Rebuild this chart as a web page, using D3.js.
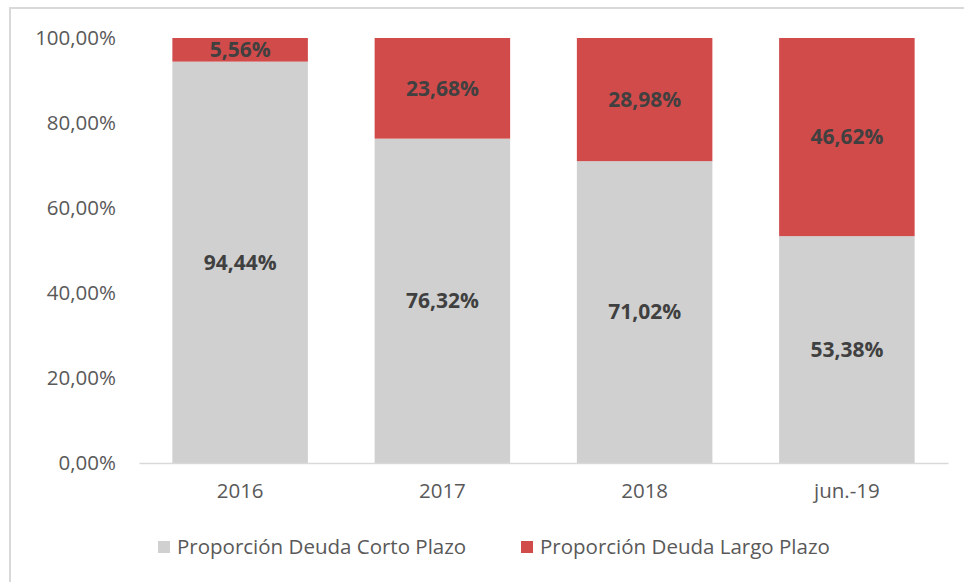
<!DOCTYPE html>
<html>
<head>
<meta charset="utf-8">
<script src="https://cdn.jsdelivr.net/npm/d3@7"></script>
<style>
  body { margin: 0; background: #fff; }
  text { font-family: "Open Sans", "Noto Sans", sans-serif; }
</style>
</head>
<body>
<script>
// data
var categories = ['2016', '2017', '2018', 'jun.-19']
var corto = [94.44, 76.32, 71.02, 53.38]
var largo = [5.56, 23.68, 28.98, 46.62]
var seriesNames = ['Proporción Deuda Corto Plazo', 'Proporción Deuda Largo Plazo']
var yTicks = [0, 20, 40, 60, 80, 100]

var colors = ['#d0d0d0', '#d14b4b']

var W = 964, H = 582
var margin = {top: 38, right: 16, bottom: 119, left: 139}
var width = 948 - margin.left
var height = 463 - margin.top

var svg = d3.select('body').append('svg')
  .attr('width', W).attr('height', H)

// outer frame (runs past the right and bottom edges)
svg.append('rect')
  .attr('x', 10).attr('y', 8)
  .attr('width', W + 20).attr('height', H + 20)
  .attr('fill', 'none').attr('stroke', '#d9d9d9').attr('stroke-width', 2)

var g = svg.append('g').attr('transform', 'translate(' + margin.left + ',' + margin.top + ')')

var x = d3.scaleBand().domain(categories).range([0, width]).paddingInner(0.33).paddingOuter(0.165)
var y = d3.scaleLinear().domain([0, 100]).range([height, 0])

var fmt = function(v) { return v.toFixed(2).replace('.', ',') + '%' }

// y axis labels
g.selectAll('.ytick').data(yTicks).enter().append('text')
  .attr('x', -23).attr('y', function(d) { return y(d) })
  .attr('dy', '0.35em').attr('text-anchor', 'end')
  .attr('fill', '#595959').style('font-size', '20.5px')
  .text(function(d) { return fmt(d) })

// stacked bars
var rows = categories.map(function(c, i) { return {cat: c, corto: corto[i], largo: largo[i]} })
var stack = d3.stack().keys(['corto', 'largo'])(rows)

stack.forEach(function(layer, li) {
  g.selectAll('.bar' + li).data(layer).enter().append('rect')
    .attr('x', function(d) { return x(d.data.cat) })
    .attr('width', x.bandwidth())
    .attr('y', function(d) { return y(d[1]) })
    .attr('height', function(d) { return y(d[0]) - y(d[1]) })
    .attr('fill', colors[li])

  g.selectAll('.lab' + li).data(layer).enter().append('text')
    .attr('x', function(d) { return x(d.data.cat) + x.bandwidth() / 2 })
    .attr('y', function(d) { return y((d[0] + d[1]) / 2) })
    .attr('dy', '0.35em').attr('text-anchor', 'middle')
    .attr('fill', '#404040').style('font-size', '21px').style('font-weight', 'bold')
    .text(function(d) { return fmt(d[1] - d[0]) })
})

// x axis
var xAxis = g.append('g').attr('transform', 'translate(0,' + height + ')')
  .call(d3.axisBottom(x).tickSize(0).tickPadding(20))
xAxis.select('.domain').attr('stroke', '#d9d9d9').attr('stroke-width', 1.5)
xAxis.selectAll('text').attr('fill', '#595959').style('font-size', '20.5px')
  .style('font-family', '"Open Sans", "Noto Sans", sans-serif')

// legend
var legendX = [158, 521]
seriesNames.forEach(function(name, i) {
  var lg = svg.append('g').attr('transform', 'translate(' + legendX[i] + ',547)')
  lg.append('rect').attr('x', 0).attr('y', -6).attr('width', 12).attr('height', 12).attr('fill', colors[i])
  lg.append('text').attr('x', 19).attr('dy', '0.35em')
    .attr('fill', '#595959').style('font-size', '20.5px').text(name)
})
</script>
</body>
</html>
